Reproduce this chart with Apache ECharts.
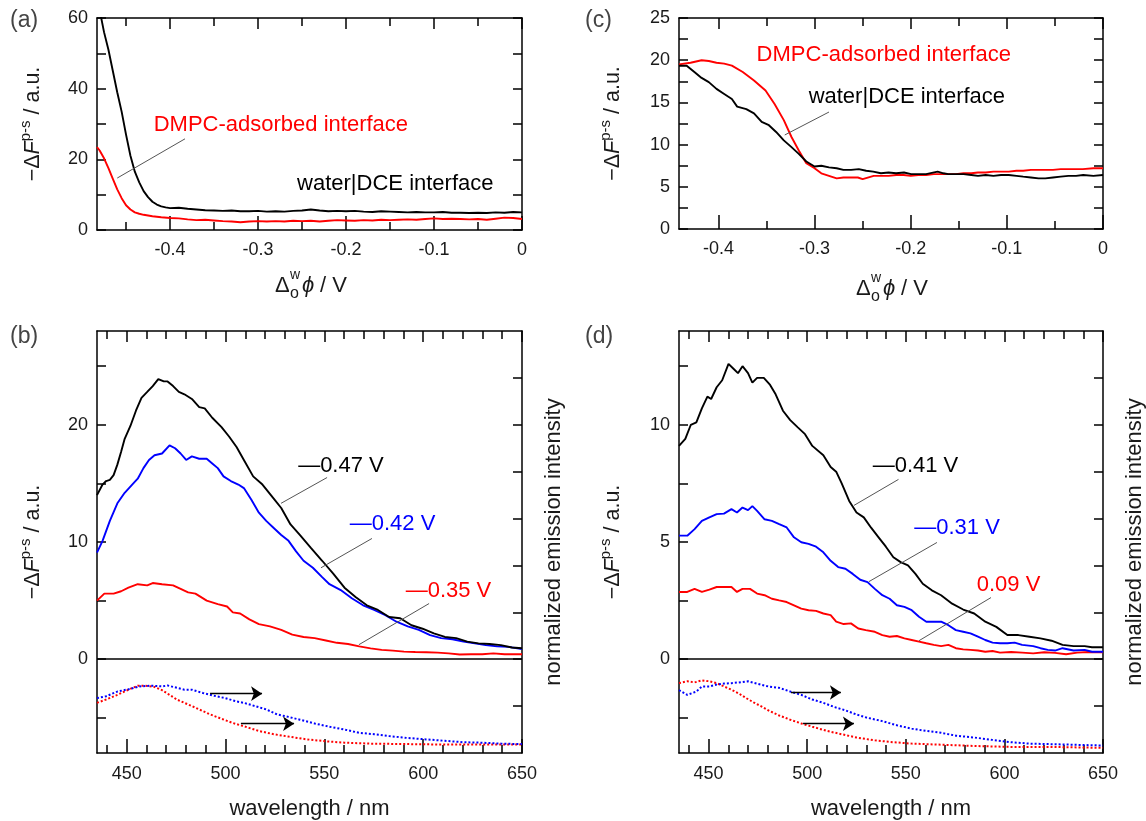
<!DOCTYPE html>
<html><head><meta charset="utf-8">
<script src="https://cdn.jsdelivr.net/npm/echarts@6/dist/echarts.min.js"></script>
<style>html,body{margin:0;padding:0;background:#fff}#c{width:1146px;height:821px}</style>
</head><body><div id="c"></div>
<script>
// ---------- DATA ----------
// Panel (a): potential (V) vs -dF (a.u.)
const aBlack = [[-0.479,61],[-0.475,56],[-0.47,51],[-0.465,45],[-0.46,39],[-0.455,33.5],[-0.45,27],[-0.445,21],[-0.44,16.5],[-0.435,13.5],[-0.43,11],[-0.425,9.3],[-0.42,8.0],[-0.415,7.2],[-0.41,6.7],[-0.405,6.4],[-0.4,6.2],[-0.39,6.3],[-0.38,6.0],[-0.37,5.8],[-0.36,5.6],[-0.35,5.5],[-0.34,5.4],[-0.33,5.5],[-0.32,5.3],[-0.31,5.3],[-0.3,5.4],[-0.29,5.2],[-0.28,5.3],[-0.27,5.2],[-0.26,5.4],[-0.25,5.5],[-0.24,5.8],[-0.23,5.5],[-0.22,5.3],[-0.21,5.4],[-0.2,5.3],[-0.19,5.4],[-0.18,5.2],[-0.17,5.1],[-0.16,5.3],[-0.15,5.2],[-0.14,5.1],[-0.13,5.0],[-0.12,5.1],[-0.11,5.0],[-0.1,5.0],[-0.09,5.1],[-0.08,4.9],[-0.07,4.9],[-0.06,4.8],[-0.05,4.9],[-0.04,4.8],[-0.03,5.0],[-0.02,4.9],[-0.01,5.1],[0,5.0]];
const aRed = [[-0.483,23.5],[-0.48,22.5],[-0.475,20.3],[-0.47,17.5],[-0.465,14.5],[-0.46,11.5],[-0.455,9.0],[-0.45,7.0],[-0.445,5.8],[-0.44,5.0],[-0.435,4.6],[-0.43,4.3],[-0.42,3.9],[-0.41,3.6],[-0.4,3.4],[-0.39,3.3],[-0.38,3.0],[-0.37,2.8],[-0.36,2.9],[-0.35,2.7],[-0.34,2.5],[-0.33,2.4],[-0.32,2.2],[-0.31,2.4],[-0.3,2.5],[-0.29,2.4],[-0.28,2.5],[-0.27,2.4],[-0.26,2.6],[-0.25,2.5],[-0.24,2.6],[-0.23,2.4],[-0.22,2.6],[-0.21,2.8],[-0.2,2.7],[-0.19,2.6],[-0.18,2.8],[-0.17,2.7],[-0.16,2.9],[-0.15,2.8],[-0.14,2.9],[-0.13,3.0],[-0.12,2.9],[-0.11,3.1],[-0.1,3.3],[-0.09,3.1],[-0.08,3.2],[-0.07,3.1],[-0.06,3.0],[-0.05,3.1],[-0.04,2.9],[-0.03,3.2],[-0.02,3.5],[-0.01,3.4],[0,3.1]];
// Panel (c)
const cBlack = [[-0.441,19.35],[-0.433,19.35],[-0.425,18.6],[-0.4175,17.9],[-0.41,17.4],[-0.402,16.6],[-0.394,16.0],[-0.386,15.4],[-0.3805,14.5],[-0.371,14.2],[-0.363,13.7],[-0.355,12.7],[-0.3475,12.3],[-0.34,11.5],[-0.332,10.5],[-0.324,9.7],[-0.3164,8.9],[-0.3086,8.0],[-0.3,7.4],[-0.293,7.5],[-0.285,7.3],[-0.277,7.2],[-0.27,7.0],[-0.262,7.0],[-0.254,7.1],[-0.2463,6.9],[-0.239,6.8],[-0.231,6.6],[-0.223,6.7],[-0.2152,6.6],[-0.207,6.7],[-0.1996,6.5],[-0.192,6.5],[-0.184,6.5],[-0.172,6.8],[-0.166,6.6],[-0.161,6.5],[-0.153,6.5],[-0.145,6.5],[-0.137,6.4],[-0.13,6.3],[-0.122,6.4],[-0.114,6.3],[-0.106,6.4],[-0.098,6.4],[-0.09,6.3],[-0.083,6.2],[-0.075,6.1],[-0.067,6.0],[-0.06,6.0],[-0.052,6.1],[-0.044,6.2],[-0.036,6.3],[-0.028,6.3],[-0.0206,6.4],[-0.01,6.3],[0,6.4]];
const cRed = [[-0.441,19.5],[-0.429,19.7],[-0.4175,20.0],[-0.41,19.9],[-0.402,19.7],[-0.394,19.6],[-0.386,19.35],[-0.3747,18.6],[-0.363,17.6],[-0.351,16.4],[-0.3416,14.8],[-0.332,12.9],[-0.324,10.9],[-0.3164,9.3],[-0.3086,7.8],[-0.3,7.2],[-0.293,6.6],[-0.285,6.3],[-0.277,6.0],[-0.27,6.1],[-0.262,6.1],[-0.255,6.1],[-0.25,5.9],[-0.2385,6.3],[-0.23,6.3],[-0.223,6.3],[-0.215,6.4],[-0.2074,6.4],[-0.2,6.3],[-0.192,6.4],[-0.184,6.4],[-0.176,6.5],[-0.168,6.5],[-0.161,6.5],[-0.153,6.5],[-0.145,6.6],[-0.137,6.6],[-0.13,6.7],[-0.122,6.7],[-0.114,6.8],[-0.106,6.8],[-0.098,6.8],[-0.09,6.9],[-0.083,6.9],[-0.075,7.0],[-0.067,7.0],[-0.06,7.0],[-0.052,7.0],[-0.044,7.1],[-0.036,7.1],[-0.028,7.1],[-0.021,7.1],[-0.01,7.2],[0,7.2]];
// Panel (b): wavelength (nm) vs -dF (a.u.)
const bBlack = [[435,14.0],[437.8,14.9],[439.6,15.2],[441.5,15.3],[443.4,15.7],[445.3,16.6],[447.2,17.7],[449,18.8],[451.9,19.9],[454.7,21.2],[457.5,22.3],[460.4,22.8],[463.2,23.3],[466,23.9],[468.8,23.7],[470.7,23.7],[473.5,23.3],[476.4,22.8],[479.2,22.6],[483,22.2],[486.7,21.5],[489.5,21.4],[493.3,20.6],[498,19.8],[501.8,19.0],[505.6,18.1],[509.3,17.0],[514,15.6],[518.7,14.9],[524.4,13.7],[528.2,12.9],[532.9,11.5],[537.6,10.6],[543.2,9.5],[548.9,8.4],[554.5,7.3],[560.2,6.1],[565.8,5.3],[571.5,4.6],[577.1,4.2],[582.8,3.6],[588.4,3.5],[594.1,2.9],[599.7,2.6],[605.4,2.2],[611,1.9],[616.7,1.8],[622.3,1.5],[628,1.35],[633.6,1.3],[639.3,1.2],[644.9,1.0],[650,0.93]];
const bBlue = [[435,9.1],[437.8,10.1],[441.5,11.8],[445.3,13.3],[449,14.2],[452.8,14.9],[455.6,15.4],[458.5,16.3],[461.3,17.0],[464.1,17.4],[467.9,17.55],[471.7,18.25],[474.5,18.0],[477.3,17.55],[480.1,17.0],[483,17.3],[486.7,17.1],[490.5,17.1],[493.3,16.7],[496.1,16.3],[499,15.6],[502.7,15.2],[506.5,14.9],[509.3,14.6],[513.1,13.6],[516.9,12.5],[520.6,11.8],[524.4,11.2],[528.2,10.6],[531.9,10.1],[535.7,9.2],[539.5,8.4],[544.2,7.8],[548.9,7.0],[552.6,6.4],[558.3,5.9],[563.9,5.2],[569.6,4.6],[575.2,4.2],[580.9,3.75],[586.5,3.2],[592.2,2.8],[597.8,2.5],[603.5,2.05],[609.1,1.8],[614.8,1.7],[620.4,1.5],[626.1,1.35],[631.7,1.2],[637.4,1.1],[643,1.05],[650,0.87]];
const bRed = [[435,5.0],[438.7,5.6],[443.4,5.6],[447.2,5.8],[450.9,6.1],[455.6,6.4],[460.4,6.3],[463.2,6.5],[467.9,6.4],[473.5,6.3],[477.3,6.0],[481.1,5.7],[484.8,5.6],[490.5,5.0],[496.1,4.7],[500.8,4.5],[503.7,4.0],[507.4,3.9],[512.1,3.4],[516.9,3.0],[522.5,2.8],[528.2,2.5],[533.8,2.1],[539.5,1.9],[545.1,1.8],[550.8,1.6],[556.4,1.4],[562,1.3],[567.7,1.1],[573.4,0.93],[579,0.8],[584.7,0.73],[590.3,0.65],[596,0.62],[601.6,0.6],[607.3,0.56],[612.9,0.5],[618.5,0.4],[624.2,0.42],[629.9,0.42],[635.5,0.5],[641.2,0.42],[650,0.42]];
// normalized emission spectra (right axis units)
const bBlueNorm = [[435,-0.83],[439.6,-0.79],[445.3,-0.69],[450.9,-0.64],[456.6,-0.58],[462.2,-0.565],[467.9,-0.58],[470.7,-0.56],[475.4,-0.61],[479.2,-0.65],[483,-0.65],[488.6,-0.72],[494.3,-0.78],[499.9,-0.83],[505.6,-0.9],[509.3,-0.93],[515,-1.0],[520.6,-1.07],[526.3,-1.18],[531.9,-1.23],[537.6,-1.29],[545.1,-1.37],[552.6,-1.44],[560.2,-1.5],[567.7,-1.57],[575.2,-1.6],[582.8,-1.64],[592.2,-1.68],[601.6,-1.71],[611,-1.74],[620.4,-1.77],[629.9,-1.78],[639.3,-1.8],[650,-1.81]];
const bRedNorm = [[435,-0.93],[439.6,-0.86],[445.3,-0.76],[450.9,-0.65],[455.6,-0.565],[459.4,-0.565],[464.1,-0.59],[467.9,-0.66],[471.7,-0.76],[475.4,-0.86],[479.2,-0.93],[483,-1.0],[486.7,-1.07],[492.4,-1.18],[498,-1.27],[503.7,-1.36],[509.3,-1.43],[516.9,-1.53],[524.4,-1.6],[531.9,-1.65],[541.3,-1.71],[550.8,-1.75],[560.2,-1.78],[573.4,-1.8],[592.2,-1.81],[611,-1.82],[629.9,-1.82],[650,-1.82]];
// Panel (d)
const dBlack = [[435,9.1],[438.2,9.4],[441,10.0],[443.8,10.1],[446.6,10.7],[449.4,11.2],[451.3,11.1],[454.1,11.6],[456.9,11.9],[460.1,12.6],[462.5,12.4],[464.9,12.2],[467.2,12.5],[470,12.2],[472.2,11.8],[474.6,12.0],[478,12.0],[481.2,11.7],[484,11.3],[487.7,10.6],[491.4,10.2],[495.1,9.9],[498.9,9.6],[502.6,9.1],[508.2,8.7],[511.9,8.2],[514.7,8.0],[517.5,7.5],[521.3,6.75],[525,6.26],[528.7,6.05],[532.5,5.6],[536.2,5.2],[539.9,4.8],[543.7,4.35],[547.4,4.14],[551.1,4.0],[554.9,3.64],[558.6,3.22],[563.2,2.94],[567.9,2.73],[573.5,2.37],[579.1,2.12],[584.7,1.95],[590.3,1.6],[595.9,1.38],[601.5,1.03],[607.1,1.03],[612.7,0.96],[618.3,0.89],[623.9,0.79],[629.5,0.61],[635.1,0.56],[640.7,0.56],[644.4,0.51],[650,0.51]];
const dBlue = [[435,5.27],[439.2,5.27],[442.9,5.55],[446.6,5.9],[450.4,6.05],[454.1,6.19],[457.8,6.21],[461.6,6.4],[464.4,6.26],[467.2,6.47],[470,6.36],[472.2,6.53],[474.6,6.33],[478.4,5.97],[482.1,5.9],[485.8,5.76],[489.6,5.62],[493.3,5.2],[497,4.99],[500.7,4.92],[504.5,4.8],[508.2,4.56],[511.9,4.2],[515.7,3.93],[519.4,3.86],[523.1,3.64],[526.9,3.39],[530.6,3.29],[534.3,3.0],[538.1,2.73],[541.8,2.58],[545.5,2.3],[549.3,2.23],[553,2.09],[556.7,1.81],[560.4,1.6],[564.2,1.6],[567.9,1.6],[571.6,1.45],[575.4,1.24],[579.1,1.17],[582.8,1.1],[586.6,0.96],[590.3,0.82],[594,0.71],[597.8,0.68],[601.5,0.68],[605.2,0.71],[609,0.61],[614.6,0.56],[618.3,0.47],[622,0.4],[625.7,0.37],[629.5,0.47],[635.1,0.37],[640.7,0.4],[644.4,0.32],[650,0.32]];
const dRed = [[435,2.87],[439.2,2.87],[442.9,3.0],[446.6,2.87],[450.4,2.97],[454.1,3.08],[457.8,3.08],[461.6,3.08],[464.4,2.87],[467.2,3.0],[471,3.0],[474.6,2.8],[478.4,2.73],[482.1,2.58],[485.8,2.51],[489.6,2.44],[493.3,2.3],[497,2.16],[500.7,2.09],[504.5,2.06],[508.2,1.95],[511.9,1.88],[514.7,1.6],[518.5,1.5],[522.2,1.53],[525.9,1.31],[529.7,1.24],[534.3,1.17],[538.1,1.03],[541.8,0.96],[545.5,0.99],[549.3,0.89],[553,0.82],[556.7,0.75],[560.4,0.68],[564.2,0.61],[567.9,0.56],[571.6,0.61],[575.4,0.47],[579.1,0.42],[582.8,0.4],[586.6,0.37],[590.3,0.32],[594,0.35],[597.8,0.28],[603.4,0.31],[609,0.28],[614.6,0.25],[620.2,0.3],[625.7,0.27],[631.3,0.21],[636.9,0.28],[642.5,0.31],[650,0.3]];
const dBlueNorm = [[435,-0.66],[439.2,-0.76],[443.8,-0.69],[446.6,-0.58],[450.4,-0.58],[454.1,-0.54],[457.8,-0.52],[461.6,-0.51],[465.3,-0.495],[470,-0.47],[474.6,-0.52],[480.2,-0.58],[485.8,-0.61],[491.4,-0.69],[497,-0.76],[502.6,-0.86],[508.2,-0.93],[513.8,-1.02],[519.4,-1.09],[525,-1.18],[530.6,-1.25],[538.1,-1.32],[545.5,-1.41],[553,-1.48],[560.4,-1.53],[567.9,-1.57],[575.4,-1.63],[584.7,-1.67],[594,-1.72],[603.4,-1.77],[612.7,-1.8],[622,-1.81],[631.3,-1.82],[640.7,-1.83],[650,-1.84]];
const dRedNorm = [[435,-0.51],[439.2,-0.47],[442.9,-0.495],[446.6,-0.45],[450.4,-0.47],[454.1,-0.51],[457.8,-0.58],[461.6,-0.65],[465.3,-0.73],[469.1,-0.83],[472.8,-0.92],[476.5,-1.0],[481.2,-1.11],[485.8,-1.2],[491.4,-1.29],[497,-1.37],[502.6,-1.44],[510.1,-1.53],[517.5,-1.6],[525,-1.67],[534.3,-1.73],[543.7,-1.77],[553,-1.8],[566,-1.82],[584.7,-1.85],[603.4,-1.87],[622,-1.87],[650,-1.89]];

// Ticks / labels
const potMajors = [-0.4,-0.3,-0.2,-0.1,0];
const potMinors = [-0.45,-0.35,-0.25,-0.15,-0.05];
const wlMajors = [450,500,550,600,650];
const wlMinors = [440,460,470,480,490,510,520,530,540,560,570,580,590,610,620,630,640];
const aYLabels = [0,20,40,60], aYTicks = [0,10,20,30,40,50,60];
const cYLabels = [0,5,10,15,20,25], cYTicks = [2.5,7.5,12.5,17.5,22.5,0,5,10,15,20,25];
const bYLabels = [0,10,20], bYTicks = [-5,0,5,10,15,20,25];
const dYLabels = [0,5,10], dYTicks = [-2.5,0,2.5,5,7.5,10,12.5];
const normTicks = [-1,0,1,2,3,4,5,6];

// Annotation texts
const aLabels = [{x:-0.274, y:29.7, t:'DMPC-adsorbed interface', c:'#ff0000'}, {x:-0.144, y:13.0, t:'water|DCE interface', c:'#000'}];
const cLabels = [{x:-0.228, y:20.6, t:'DMPC-adsorbed interface', c:'#ff0000'}, {x:-0.204, y:15.64, t:'water|DCE interface', c:'#000'}];
const bLabels = [{x:558.4, y:16.5, t:'\u20140.47 V', c:'#000'}, {x:584.5, y:11.5, t:'\u20140.42 V', c:'#0000ff'}, {x:612.8, y:5.85, t:'\u20140.35 V', c:'#ff0000'}];
const dLabels = [{x:554.9, y:8.23, t:'\u20140.41 V', c:'#000'}, {x:576, y:5.62, t:'\u20140.31 V', c:'#0000ff'}, {x:602.1, y:3.18, t:'0.09 V', c:'#ff0000'}];
const aLeaders = [[[-0.383,25.8],[-0.46,14.7]]];
const cLeaders = [[[-0.285,13.86],[-0.331,11.14]]];
const bLeaders = [[[551.4,15.5],[528.1,13.3]],[[574.1,10.3],[548.3,7.8]],[[603,4.75],[567.5,1.24]]];
const dLeaders = [[[546.3,7.67],[523.7,6.56]],[[565.8,4.98],[531.3,3.31]],[[593.2,2.63],[556.7,0.79]]];
const bArrows = [[[492.2,-0.735],[518.5,-0.735]],[[507.8,-1.376],[534.7,-1.376]]];
const dArrows = [[[491.8,-0.71],[517.1,-0.71]],[[497.9,-1.376],[523.7,-1.376]]];

// ---------- CHART ----------
const FONT = '"Liberation Sans", Arial, sans-serif';
const TXT = '#1a1a1a';
const tickLine = {color:'#000', width:1.5};
const grids = [], xAxes = [], yAxes = [], series = [];

function addGrid(left, top, width, height){
  grids.push({left, top, width, height, containLabel:false, outerBoundsMode:'none'});
  return grids.length - 1;
}
function xSet(gi, min, max, majors, minors, margin, name){
  const base = {type:'value', gridIndex:gi, min, max, splitLine:{show:false}};
  const mk = (pos, line, vals, len, lab) => Object.assign({}, base, {
    position: pos,
    axisLine:{show:line, onZero:false, lineStyle:tickLine},
    axisTick:{show:true, inside:true, length:len, customValues:vals, lineStyle:tickLine},
    axisLabel: lab ? {show:true, customValues:majors, color:TXT, fontSize:18, fontFamily:FONT, margin} : {show:false, customValues:vals}
  });
  const i0 = xAxes.length;
  const main = mk('bottom', true, majors, 14, true);
  if (name) Object.assign(main, {name, nameLocation:'middle', nameGap:45, nameTextStyle:{color:TXT, fontSize:22, fontFamily:FONT}});
  xAxes.push(main);
  xAxes.push(mk('bottom', false, minors, 8, false));
  xAxes.push(mk('top', true, majors, 11, false));
  xAxes.push(mk('top', false, minors, 8, false));
  return i0;
}
const yName = '{n|\u2212\u0394}{i|F}{s|p-s}{n| / a.u.}';
const yRich = {
  n:{fontSize:21.5, fontFamily:FONT, color:TXT, lineHeight:30},
  i:{fontSize:21.5, fontFamily:FONT, color:TXT, fontStyle:'italic', lineHeight:30},
  s:{fontSize:15, fontFamily:FONT, color:TXT, verticalAlign:'top', lineHeight:16}
};
function ySet(gi, min, max, labels, ticks, gap, rMin, rMax, rTicks, rName){
  const left = {type:'value', gridIndex:gi, min, max, position:'left', splitLine:{show:false},
    axisLine:{show:true, onZero:false, lineStyle:tickLine},
    axisTick:{show:true, inside:true, length:9, customValues:ticks, lineStyle:tickLine},
    axisLabel:{show:true, customValues:labels, color:TXT, fontSize:18, fontFamily:FONT, margin:9},
    name:yName, nameLocation:'middle', nameRotate:90, nameGap:gap,
    nameTextStyle:{color:TXT, fontSize:21.5, fontFamily:FONT, rich:yRich}};
  const iL = yAxes.length; yAxes.push(left);
  const hasR = rMin !== undefined;
  const right = {type:'value', gridIndex:gi, min: hasR ? rMin : min, max: hasR ? rMax : max, position:'right', splitLine:{show:false},
    axisLine:{show:true, onZero:false, lineStyle:tickLine},
    axisTick:{show:true, inside:true, length:9, customValues: hasR ? rTicks : ticks, lineStyle:tickLine},
    axisLabel:{show:false, customValues: hasR ? rTicks : ticks}};
  if (rName) Object.assign(right, {name:rName, nameLocation:'middle', nameRotate:90, nameGap:21,
    nameTextStyle:{color:TXT, fontSize:22, fontFamily:FONT}});
  const iR = yAxes.length; yAxes.push(right);
  return [iL, iR];
}
function line(xi, yi, data, color, dotted){
  return {type:'line', xAxisIndex:xi, yAxisIndex:yi, data, showSymbol:false, symbol:'none', silent:true,
    lineStyle:{color, width: dotted ? 2 : 1.9, type: dotted ? [2,2] : 'solid'}, itemStyle:{color}, z: dotted ? 2 : 3};
}
function textMarks(list){
  return {silent:true, symbol:'circle', symbolSize:1, itemStyle:{color:'rgba(0,0,0,0)'},
    data: list.map(o => ({coord:[o.x,o.y], value:0, label:{show:true, position:'inside', formatter:o.t, color:o.c, fontSize:22, fontFamily:FONT}}))};
}
function leaderLines(list, extra){
  const data = list.map(seg => [{coord:seg[0]},{coord:seg[1]}]);
  if (extra) data.unshift(extra);
  return {silent:true, symbol:['none','none'], label:{show:false}, lineStyle:{color:'#555', width:1, type:'solid'}, data};
}
function arrows(list){
  return {silent:true, symbol:['none','arrow'], symbolSize:11, label:{show:false}, lineStyle:{color:'#000', width:1.3, type:'solid'}, itemStyle:{color:'#000'},
    data: list.map(seg => [{coord:seg[0]},{coord:seg[1]}])};
}
const zeroLine = {yAxis:0, lineStyle:{color:'#000', width:1.5, type:'solid'}};

// (a)
const gA = addGrid(97, 18, 425, 212);
const xa = xSet(gA, -0.483, 0, potMajors, potMinors, 11);
const [ya] = ySet(gA, 0, 60, aYLabels, aYTicks, 49);
series.push(line(xa, ya, aBlack, '#000'));
const sAr = line(xa, ya, aRed, '#ff0000');
sAr.markLine = leaderLines(aLeaders); sAr.markPoint = textMarks(aLabels);
series.push(sAr);
// (c)
const gC = addGrid(679, 18, 424, 211);
const xc = xSet(gC, -0.441, 0, potMajors, potMinors, 11);
const [yc] = ySet(gC, 0, 25, cYLabels, cYTicks, 51);
const sCb = line(xc, yc, cBlack, '#000');
sCb.markLine = leaderLines(cLeaders); sCb.markPoint = textMarks(cLabels);
series.push(line(xc, yc, cRed, '#ff0000'));
series.push(sCb);
// (b)
const gB = addGrid(97, 331, 425, 422);
const xb = xSet(gB, 435, 650, wlMajors, wlMinors, 12, 'wavelength / nm');
const [yb, ybR] = ySet(gB, -8, 28, bYLabels, bYTicks, 49, -2, 7, normTicks, 'normalized emission intensity');
const sBk = line(xb, yb, bBlack, '#000');
sBk.markLine = leaderLines(bLeaders, zeroLine); sBk.markPoint = textMarks(bLabels);
series.push(line(xb, yb, bRed, '#ff0000'), line(xb, yb, bBlue, '#0000ff'), sBk);
const sBn = line(xb, ybR, bBlueNorm, '#0000ff', true);
sBn.markLine = arrows(bArrows);
series.push(line(xb, ybR, bRedNorm, '#ff0000', true), sBn);
// (d)
const gD = addGrid(679, 331, 424, 422);
const xd = xSet(gD, 435, 650, wlMajors, wlMinors, 12, 'wavelength / nm');
const [yd, ydR] = ySet(gD, -4, 14, dYLabels, dYTicks, 51, -2, 7, normTicks, 'normalized emission intensity');
const sDk = line(xd, yd, dBlack, '#000');
sDk.markLine = leaderLines(dLeaders, zeroLine); sDk.markPoint = textMarks(dLabels);
series.push(line(xd, yd, dRed, '#ff0000'), line(xd, yd, dBlue, '#0000ff'), sDk);
const sDn = line(xd, ydR, dBlueNorm, '#0000ff', true);
sDn.markLine = arrows(dArrows);
series.push(line(xd, ydR, dRedNorm, '#ff0000', true), sDn);

// Panel letters and Δ_o^w ϕ axis names (text only)
function t(x, y, text, size, style, color){
  return {type:'text', x, y, silent:true, style:{text, fill: color || TXT,
    font: (style ? style + ' ' : '') + size + 'px "Liberation Sans", Arial, sans-serif',
    textAlign:'left', align:'left', textVerticalAlign:'middle', verticalAlign:'middle'}};
}
function deltaName(cx, cy){
  return [t(cx-35, cy, '\u0394', 22), t(cx-20, cy-11, 'w', 14), t(cx-20, cy+8, 'o', 16),
          t(cx-8, cy, '\u03D5', 22, 'italic'), t(cx+4, cy, ' / V', 22)];
}
const graphic = [
  t(10, 21, '(a)', 23, null, '#444'), t(585, 21, '(c)', 23, null, '#444'),
  t(10, 337, '(b)', 23, null, '#444'), t(585, 337, '(d)', 23, null, '#444'),
  ...deltaName(310, 286), ...deltaName(891, 289)
];

const chart = echarts.init(document.getElementById('c'), null, {renderer:'canvas'});
chart.setOption({
  animation:false, backgroundColor:'#fff',
  textStyle:{fontFamily:FONT},
  grid:grids, xAxis:xAxes, yAxis:yAxes, series, graphic
});
</script></body></html>
